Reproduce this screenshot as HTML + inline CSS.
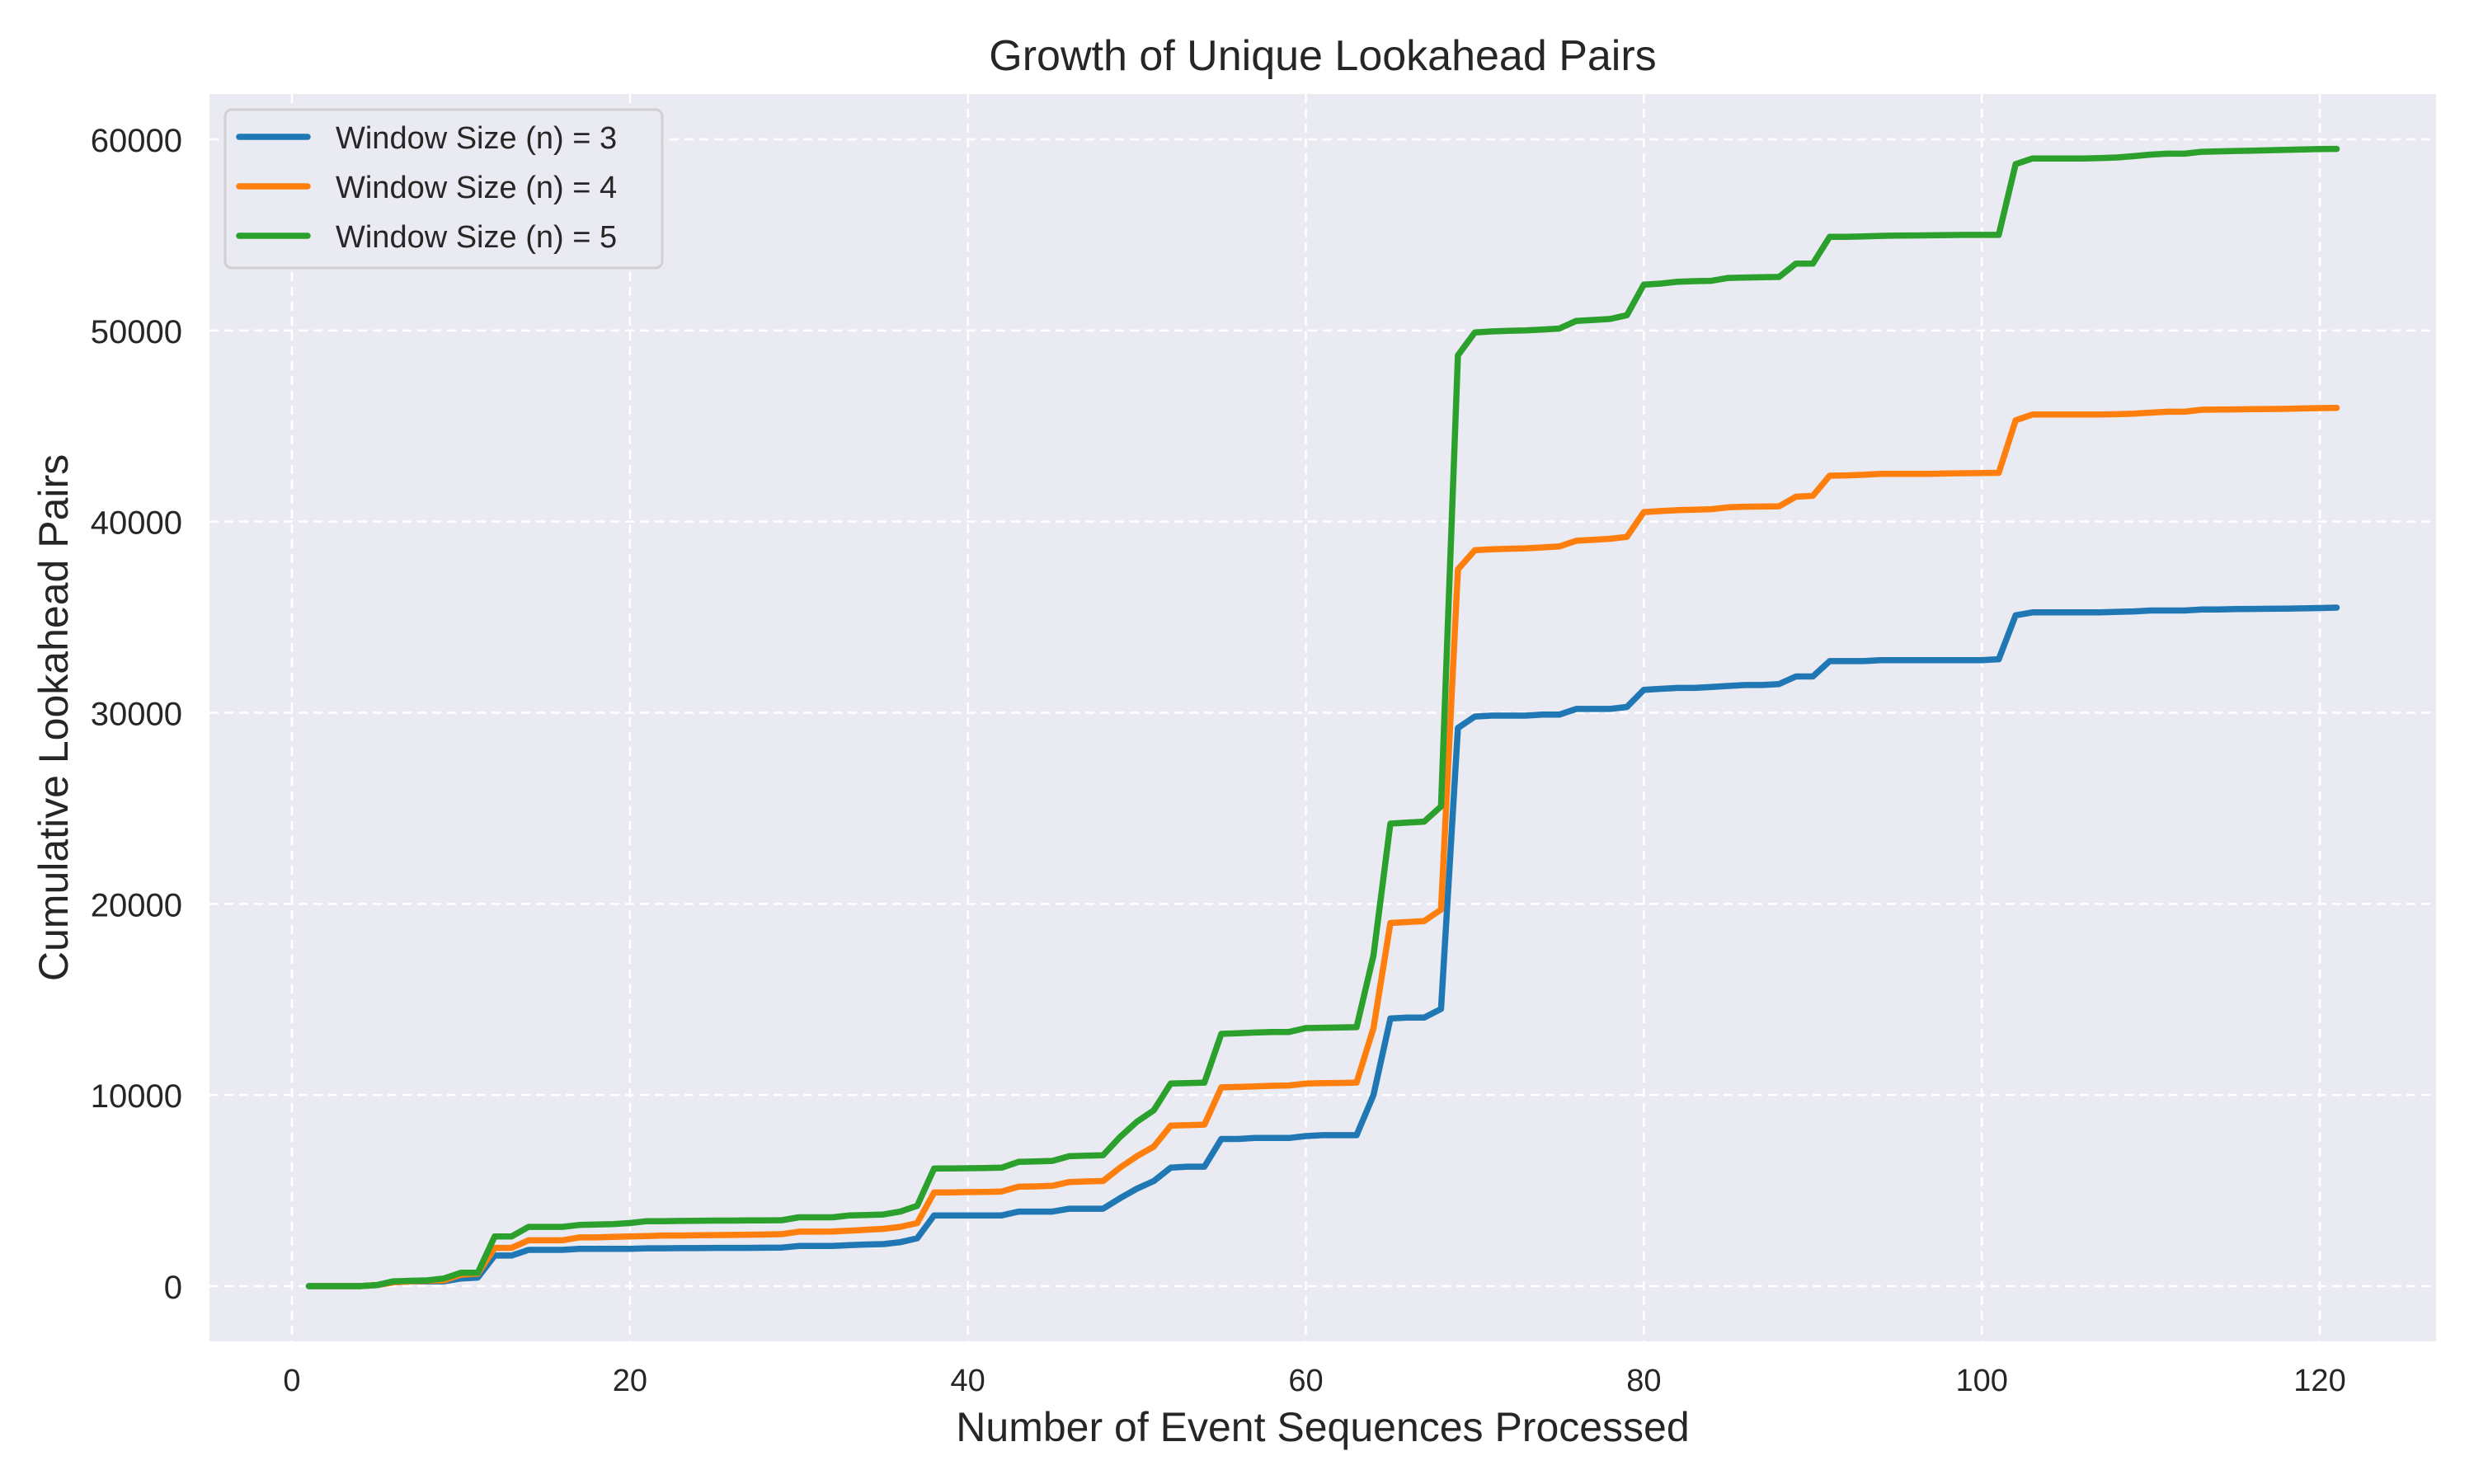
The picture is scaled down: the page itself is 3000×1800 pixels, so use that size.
<!DOCTYPE html>
<html><head><meta charset="utf-8">
<style>
html,body{margin:0;padding:0;background:#fff;}
svg{display:block;font-family:"Liberation Sans","DejaVu Sans",sans-serif;}
</style></head>
<body>
<svg id="chart" width="3000" height="1800" viewBox="0 0 3000 1800" xmlns="http://www.w3.org/2000/svg"></svg>
<script>
const seriesNames = ["Window Size (n) = 3","Window Size (n) = 4","Window Size (n) = 5"];
const seriesColors = ["#1f77b4","#ff7f0e","#2ca02c"];
const xTicks = [0,20,40,60,80,100,120];
const yTicks = [0,10000,20000,30000,40000,50000,60000];
const n3 = [0,0,0,0,50,200,250,250,250,400,450,1600,1600,1900,1900,1900,1950,1950,1950,1950,1980,1980,1990,1990,2000,2000,2000,2010,2020,2100,2100,2100,2150,2180,2200,2300,2500,3700,3700,3700,3700,3700,3900,3900,3900,4050,4050,4050,4600,5100,5500,6200,6250,6250,7700,7700,7750,7750,7750,7850,7900,7900,7900,10000,14000,14050,14050,14500,29200,29800,29850,29850,29850,29900,29900,30200,30200,30200,30300,31200,31250,31300,31300,31350,31400,31450,31450,31500,31900,31900,32700,32700,32700,32750,32750,32750,32750,32750,32750,32750,32800,35100,35250,35250,35250,35250,35250,35280,35300,35350,35350,35350,35400,35400,35420,35430,35440,35450,35460,35480,35500];
const n4 = [0,0,0,0,50,200,250,280,300,600,650,2000,2000,2400,2400,2400,2550,2550,2580,2600,2620,2650,2650,2660,2670,2680,2690,2700,2720,2850,2850,2860,2900,2950,3000,3100,3300,4900,4900,4920,4930,4950,5200,5220,5250,5450,5480,5500,6200,6800,7300,8400,8420,8450,10400,10420,10450,10480,10500,10600,10620,10630,10650,13500,19000,19050,19100,19700,37500,38500,38550,38580,38600,38650,38700,39000,39050,39100,39200,40500,40550,40600,40620,40650,40750,40780,40790,40800,41300,41350,42400,42420,42450,42500,42500,42500,42500,42520,42530,42540,42550,45300,45600,45600,45600,45600,45600,45620,45650,45700,45750,45750,45850,45860,45870,45880,45890,45900,45920,45940,45950];
const n5 = [0,0,0,0,50,250,280,300,400,700,700,2600,2600,3100,3100,3100,3200,3220,3250,3300,3400,3400,3410,3420,3430,3430,3440,3440,3450,3600,3600,3600,3700,3720,3750,3900,4200,6150,6160,6170,6180,6200,6500,6520,6550,6800,6830,6850,7800,8600,9200,10600,10620,10650,13200,13230,13270,13300,13300,13500,13520,13530,13550,17300,24200,24250,24300,25100,48700,49900,49950,49980,50000,50050,50100,50500,50550,50600,50800,52400,52450,52550,52580,52600,52750,52770,52790,52800,53500,53500,54900,54900,54920,54950,54960,54970,54980,54990,55000,55000,55000,58700,59000,59000,59000,59000,59020,59050,59120,59200,59250,59250,59350,59370,59390,59410,59430,59450,59470,59490,59500];
const seriesData = [n3,n4,n5];

const svg = document.getElementById('chart');
const NS = "http://www.w3.org/2000/svg";
const L=254,R=2954,T=114,B=1627;
const X0=354, XPU=(2813-354)/120;
const Y0=1560, YPU=(1560-169)/60000;
const sx = v => X0 + v*XPU;
const sy = v => Y0 - v*YPU;
function mk(tag, attrs, parent){const e=document.createElementNS(NS,tag);for(const k in attrs)e.setAttribute(k,attrs[k]);(parent||svg).appendChild(e);return e;}

const bg = mk('rect',{x:L,y:T,width:R-L,height:B-T,fill:'#eaeaf2'});



xTicks.forEach(t=>{
  const g = mk('line',{x1:sx(t),x2:sx(t),y1:T,y2:B,stroke:'#fff','stroke-width':2.5,'stroke-dasharray':'11,7'});
  
  
  const lb = mk('text',{x:sx(t),y:1687,'font-size':38,'text-anchor':'middle',fill:'#262626'});
  lb.textContent = t;
  
  
});
yTicks.forEach(t=>{
  const g = mk('line',{x1:L,x2:R,y1:sy(t),y2:sy(t),stroke:'#fff','stroke-width':2.5,'stroke-dasharray':'11,7'});
  
  
  const lb = mk('text',{x:221,y:sy(t)+15,'font-size':40,'text-anchor':'end',fill:'#262626'});
  lb.textContent = t;
  
  
});

seriesData.forEach((arr,i)=>{
  const d = arr.map((v,j)=>(j?'L':'M')+sx(j+1).toFixed(1)+','+sy(v).toFixed(1)).join(' ');
  const p = mk('path',{d:d,fill:'none',stroke:seriesColors[i],'stroke-width':7.5,'stroke-linejoin':'round','stroke-linecap':'round'});
  
  
});

const title = mk('text',{x:(L+R)/2,y:85,'font-size':52,'text-anchor':'middle',fill:'#262626'});
title.textContent='Growth of Unique Lookahead Pairs';



const xl = mk('text',{x:(L+R)/2,y:1748,'font-size':50,'text-anchor':'middle',fill:'#262626'});
xl.textContent='Number of Event Sequences Processed';



const yc=(T+B)/2;
const yl = mk('text',{x:82,y:yc,'font-size':50,'text-anchor':'middle',fill:'#262626',transform:'rotate(-90 82 '+yc+')'});
yl.textContent='Cumulative Lookahead Pairs';



const lg = mk('g',{});


mk('rect',{x:273,y:133,width:530,height:192,rx:8,fill:'#eaeaf2',stroke:'#d0d0d0','stroke-width':3},lg);
seriesNames.forEach((n,i)=>{
  const y = 166 + i*60;
  const ln = mk('line',{x1:290,x2:373,y1:y,y2:y,stroke:seriesColors[i],'stroke-width':7.5,'stroke-linecap':'round'},lg);
  
  
  const tx = mk('text',{x:407,y:y+14,'font-size':38,fill:'#262626'},lg);
  tx.textContent = n;
  
  
});
</script>
</body></html>
